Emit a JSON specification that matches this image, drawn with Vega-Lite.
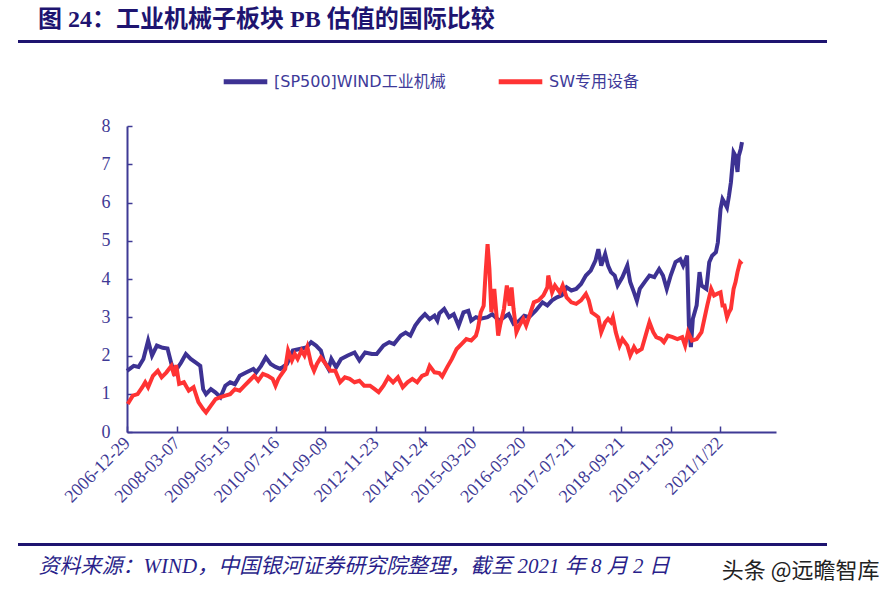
{
  "$schema": "https://vega.github.io/schema/vega-lite/v6.json",
  "background": "white",
  "padding": {"left": 18, "top": 6, "right": 0, "bottom": 0},
  "config": {"view": {"stroke": null}},
  "datasets": {
    "wind": [
      {"date": "2006-12-29", "pb": 1.60}, {"date": "2007-02-25", "pb": 1.73}, {"date": "2007-04-08", "pb": 1.70},
      {"date": "2007-05-20", "pb": 1.91}, {"date": "2007-06-30", "pb": 2.39}, {"date": "2007-08-03", "pb": 2.00},
      {"date": "2007-09-14", "pb": 2.26}, {"date": "2007-11-03", "pb": 2.20}, {"date": "2007-12-15", "pb": 2.18},
      {"date": "2008-01-18", "pb": 1.78}, {"date": "2008-02-12", "pb": 1.55}, {"date": "2008-04-10", "pb": 1.81},
      {"date": "2008-05-22", "pb": 2.04}, {"date": "2008-07-03", "pb": 1.91}, {"date": "2008-08-14", "pb": 1.82},
      {"date": "2008-09-24", "pb": 1.73}, {"date": "2008-10-19", "pb": 1.12}, {"date": "2008-11-13", "pb": 0.99},
      {"date": "2008-12-25", "pb": 1.12}, {"date": "2009-02-04", "pb": 1.03}, {"date": "2009-03-18", "pb": 0.91},
      {"date": "2009-04-29", "pb": 1.21}, {"date": "2009-06-10", "pb": 1.30}, {"date": "2009-07-21", "pb": 1.25},
      {"date": "2009-09-01", "pb": 1.47}, {"date": "2009-10-30", "pb": 1.56}, {"date": "2009-12-28", "pb": 1.65},
      {"date": "2010-01-22", "pb": 1.56}, {"date": "2010-03-05", "pb": 1.73}, {"date": "2010-04-15", "pb": 1.95},
      {"date": "2010-05-27", "pb": 1.78}, {"date": "2010-07-08", "pb": 1.70}, {"date": "2010-08-19", "pb": 1.65},
      {"date": "2010-10-16", "pb": 1.78}, {"date": "2010-12-05", "pb": 2.13}, {"date": "2011-02-02", "pb": 2.17},
      {"date": "2011-04-01", "pb": 2.21}, {"date": "2011-05-13", "pb": 2.35}, {"date": "2011-06-24", "pb": 2.26},
      {"date": "2011-08-05", "pb": 2.13}, {"date": "2011-08-30", "pb": 1.87}, {"date": "2011-10-10", "pb": 1.65},
      {"date": "2011-11-04", "pb": 1.91}, {"date": "2011-12-16", "pb": 1.69}, {"date": "2012-01-27", "pb": 1.91},
      {"date": "2012-03-25", "pb": 2.00}, {"date": "2012-05-23", "pb": 2.08}, {"date": "2012-07-04", "pb": 1.87},
      {"date": "2012-08-23", "pb": 2.08}, {"date": "2012-10-20", "pb": 2.04}, {"date": "2012-12-01", "pb": 2.04},
      {"date": "2013-01-29", "pb": 2.26}, {"date": "2013-03-20", "pb": 2.35}, {"date": "2013-04-30", "pb": 2.30},
      {"date": "2013-06-28", "pb": 2.52}, {"date": "2013-08-09", "pb": 2.60}, {"date": "2013-09-19", "pb": 2.52},
      {"date": "2013-10-31", "pb": 2.78}, {"date": "2013-12-12", "pb": 2.95}, {"date": "2014-01-23", "pb": 3.08},
      {"date": "2014-03-05", "pb": 2.95}, {"date": "2014-04-16", "pb": 3.04}, {"date": "2014-05-11", "pb": 2.91},
      {"date": "2014-05-28", "pb": 3.10}, {"date": "2014-07-09", "pb": 3.22}, {"date": "2014-08-20", "pb": 3.00},
      {"date": "2014-09-30", "pb": 3.08}, {"date": "2014-11-11", "pb": 2.78}, {"date": "2014-12-23", "pb": 3.13},
      {"date": "2015-02-03", "pb": 3.17}, {"date": "2015-02-28", "pb": 2.91}, {"date": "2015-04-10", "pb": 3.00},
      {"date": "2015-05-22", "pb": 2.96}, {"date": "2015-07-20", "pb": 3.00}, {"date": "2015-08-30", "pb": 3.08},
      {"date": "2015-10-28", "pb": 2.91}, {"date": "2015-12-09", "pb": 3.00}, {"date": "2016-01-19", "pb": 3.08},
      {"date": "2016-03-01", "pb": 2.83}, {"date": "2016-04-20", "pb": 2.91}, {"date": "2016-06-01", "pb": 3.04},
      {"date": "2016-07-13", "pb": 3.00}, {"date": "2016-09-09", "pb": 3.17}, {"date": "2016-11-07", "pb": 3.39},
      {"date": "2016-12-19", "pb": 3.31}, {"date": "2017-01-29", "pb": 3.44}, {"date": "2017-03-12", "pb": 3.52},
      {"date": "2017-04-23", "pb": 3.57}, {"date": "2017-06-04", "pb": 3.78}, {"date": "2017-07-15", "pb": 3.70},
      {"date": "2017-08-26", "pb": 3.74}, {"date": "2017-10-07", "pb": 3.87}, {"date": "2017-11-18", "pb": 4.09},
      {"date": "2017-12-30", "pb": 4.22}, {"date": "2018-02-09", "pb": 4.48}, {"date": "2018-03-06", "pb": 4.78},
      {"date": "2018-03-31", "pb": 4.35}, {"date": "2018-05-04", "pb": 4.65}, {"date": "2018-05-29", "pb": 4.35},
      {"date": "2018-06-23", "pb": 4.18}, {"date": "2018-07-26", "pb": 4.09}, {"date": "2018-08-20", "pb": 3.83},
      {"date": "2018-10-01", "pb": 4.05}, {"date": "2018-11-12", "pb": 4.35}, {"date": "2018-12-07", "pb": 3.92},
      {"date": "2019-01-09", "pb": 3.65}, {"date": "2019-02-03", "pb": 3.43}, {"date": "2019-02-28", "pb": 3.74},
      {"date": "2019-04-11", "pb": 3.92}, {"date": "2019-05-23", "pb": 4.09}, {"date": "2019-07-04", "pb": 4.05},
      {"date": "2019-08-15", "pb": 4.26}, {"date": "2019-09-17", "pb": 4.09}, {"date": "2019-10-20", "pb": 3.74},
      {"date": "2019-11-23", "pb": 4.09}, {"date": "2020-01-04", "pb": 4.44}, {"date": "2020-02-14", "pb": 4.52},
      {"date": "2020-03-10", "pb": 4.35}, {"date": "2020-04-13", "pb": 4.61}, {"date": "2020-04-29", "pb": 2.78},
      {"date": "2020-05-16", "pb": 2.22}, {"date": "2020-06-02", "pb": 2.96}, {"date": "2020-07-05", "pb": 3.31},
      {"date": "2020-07-30", "pb": 4.18}, {"date": "2020-08-16", "pb": 3.83}, {"date": "2020-09-27", "pb": 3.74},
      {"date": "2020-10-22", "pb": 4.44}, {"date": "2020-11-16", "pb": 4.61}, {"date": "2020-12-19", "pb": 4.70},
      {"date": "2021-01-05", "pb": 4.96}, {"date": "2021-01-28", "pb": 5.83}, {"date": "2021-02-14", "pb": 6.09},
      {"date": "2021-03-03", "pb": 6.00}, {"date": "2021-03-25", "pb": 5.87}, {"date": "2021-04-11", "pb": 6.17},
      {"date": "2021-04-28", "pb": 6.53}, {"date": "2021-05-21", "pb": 7.31}, {"date": "2021-06-07", "pb": 7.22},
      {"date": "2021-06-24", "pb": 6.80}, {"date": "2021-07-05", "pb": 7.22}, {"date": "2021-07-22", "pb": 7.40},
      {"date": "2021-08-02", "pb": 7.58}
    ],
    "sw": [
      {"date": "2007-01-04", "pb": 0.73}, {"date": "2007-02-17", "pb": 0.95}, {"date": "2007-03-31", "pb": 0.99},
      {"date": "2007-05-11", "pb": 1.17}, {"date": "2007-06-05", "pb": 1.30}, {"date": "2007-06-30", "pb": 1.17},
      {"date": "2007-08-11", "pb": 1.47}, {"date": "2007-09-22", "pb": 1.60}, {"date": "2007-10-25", "pb": 1.43},
      {"date": "2007-12-06", "pb": 1.56}, {"date": "2008-01-18", "pb": 1.73}, {"date": "2008-02-12", "pb": 1.47},
      {"date": "2008-02-28", "pb": 1.75}, {"date": "2008-03-25", "pb": 1.26}, {"date": "2008-05-05", "pb": 1.30},
      {"date": "2008-06-16", "pb": 1.08}, {"date": "2008-07-28", "pb": 1.17}, {"date": "2008-09-08", "pb": 0.78},
      {"date": "2008-10-19", "pb": 0.60}, {"date": "2008-11-13", "pb": 0.51}, {"date": "2008-12-25", "pb": 0.69},
      {"date": "2009-02-04", "pb": 0.86}, {"date": "2009-03-18", "pb": 0.91}, {"date": "2009-04-29", "pb": 0.95},
      {"date": "2009-06-10", "pb": 0.99}, {"date": "2009-07-21", "pb": 1.12}, {"date": "2009-09-01", "pb": 1.08},
      {"date": "2009-10-13", "pb": 1.21}, {"date": "2009-11-24", "pb": 1.34}, {"date": "2010-01-05", "pb": 1.47},
      {"date": "2010-02-08", "pb": 1.34}, {"date": "2010-03-21", "pb": 1.52}, {"date": "2010-05-02", "pb": 1.47},
      {"date": "2010-06-13", "pb": 1.39}, {"date": "2010-07-08", "pb": 1.21}, {"date": "2010-08-02", "pb": 1.39},
      {"date": "2010-08-19", "pb": 1.47}, {"date": "2010-09-30", "pb": 1.65}, {"date": "2010-10-25", "pb": 2.13},
      {"date": "2010-11-27", "pb": 1.87}, {"date": "2010-12-22", "pb": 2.04}, {"date": "2011-01-16", "pb": 1.91},
      {"date": "2011-02-18", "pb": 2.13}, {"date": "2011-03-16", "pb": 2.00}, {"date": "2011-04-10", "pb": 2.22},
      {"date": "2011-05-13", "pb": 1.78}, {"date": "2011-06-07", "pb": 1.60}, {"date": "2011-07-02", "pb": 1.78},
      {"date": "2011-08-05", "pb": 1.95}, {"date": "2011-09-15", "pb": 1.78}, {"date": "2011-10-27", "pb": 1.60},
      {"date": "2011-12-08", "pb": 1.60}, {"date": "2012-01-19", "pb": 1.30}, {"date": "2012-02-29", "pb": 1.43},
      {"date": "2012-04-11", "pb": 1.39}, {"date": "2012-05-23", "pb": 1.30}, {"date": "2012-07-04", "pb": 1.34},
      {"date": "2012-08-14", "pb": 1.21}, {"date": "2012-10-04", "pb": 1.21}, {"date": "2012-11-14", "pb": 1.12},
      {"date": "2012-12-18", "pb": 1.04}, {"date": "2013-01-29", "pb": 1.21}, {"date": "2013-03-11", "pb": 1.43},
      {"date": "2013-04-22", "pb": 1.30}, {"date": "2013-06-03", "pb": 1.43}, {"date": "2013-07-15", "pb": 1.17},
      {"date": "2013-08-25", "pb": 1.30}, {"date": "2013-10-06", "pb": 1.39}, {"date": "2013-11-17", "pb": 1.30},
      {"date": "2013-12-29", "pb": 1.47}, {"date": "2014-02-08", "pb": 1.52}, {"date": "2014-03-05", "pb": 1.73},
      {"date": "2014-04-16", "pb": 1.56}, {"date": "2014-05-28", "pb": 1.54}, {"date": "2014-06-22", "pb": 1.45},
      {"date": "2014-08-03", "pb": 1.69}, {"date": "2014-09-14", "pb": 1.91}, {"date": "2014-10-25", "pb": 2.17},
      {"date": "2014-12-06", "pb": 2.30}, {"date": "2015-01-17", "pb": 2.43}, {"date": "2015-02-28", "pb": 2.39},
      {"date": "2015-04-10", "pb": 2.52}, {"date": "2015-04-27", "pb": 2.70}, {"date": "2015-05-22", "pb": 3.13},
      {"date": "2015-06-16", "pb": 3.30}, {"date": "2015-07-03", "pb": 4.17}, {"date": "2015-07-20", "pb": 4.91},
      {"date": "2015-08-05", "pb": 4.26}, {"date": "2015-08-22", "pb": 3.13}, {"date": "2015-09-16", "pb": 3.74},
      {"date": "2015-10-03", "pb": 3.13}, {"date": "2015-10-20", "pb": 2.52}, {"date": "2015-11-05", "pb": 2.78},
      {"date": "2015-12-09", "pb": 3.22}, {"date": "2016-01-03", "pb": 3.83}, {"date": "2016-01-28", "pb": 3.30},
      {"date": "2016-02-13", "pb": 3.78}, {"date": "2016-03-01", "pb": 3.22}, {"date": "2016-03-26", "pb": 2.61},
      {"date": "2016-04-20", "pb": 2.78}, {"date": "2016-05-24", "pb": 2.96}, {"date": "2016-06-18", "pb": 2.78},
      {"date": "2016-07-13", "pb": 3.00}, {"date": "2016-08-24", "pb": 3.39}, {"date": "2016-10-04", "pb": 3.44},
      {"date": "2016-11-15", "pb": 3.57}, {"date": "2016-12-19", "pb": 3.78}, {"date": "2016-12-27", "pb": 4.09},
      {"date": "2017-01-29", "pb": 3.65}, {"date": "2017-02-23", "pb": 3.83}, {"date": "2017-04-06", "pb": 3.65},
      {"date": "2017-05-01", "pb": 3.83}, {"date": "2017-06-04", "pb": 3.52}, {"date": "2017-07-15", "pb": 3.39},
      {"date": "2017-08-26", "pb": 3.35}, {"date": "2017-10-07", "pb": 3.44}, {"date": "2017-11-18", "pb": 3.61},
      {"date": "2017-12-13", "pb": 3.44}, {"date": "2018-01-07", "pb": 3.13}, {"date": "2018-02-18", "pb": 3.04},
      {"date": "2018-03-06", "pb": 3.00}, {"date": "2018-03-31", "pb": 2.61}, {"date": "2018-05-04", "pb": 2.87},
      {"date": "2018-05-29", "pb": 2.96}, {"date": "2018-06-23", "pb": 2.87}, {"date": "2018-07-10", "pb": 3.00},
      {"date": "2018-08-04", "pb": 2.61}, {"date": "2018-09-06", "pb": 2.26}, {"date": "2018-10-01", "pb": 2.43},
      {"date": "2018-11-12", "pb": 2.26}, {"date": "2018-12-07", "pb": 2.00}, {"date": "2019-01-09", "pb": 2.22},
      {"date": "2019-02-03", "pb": 2.09}, {"date": "2019-03-17", "pb": 2.17}, {"date": "2019-04-28", "pb": 2.61},
      {"date": "2019-05-23", "pb": 2.87}, {"date": "2019-06-25", "pb": 2.61}, {"date": "2019-07-21", "pb": 2.48},
      {"date": "2019-08-31", "pb": 2.43}, {"date": "2019-09-25", "pb": 2.35}, {"date": "2019-10-29", "pb": 2.52},
      {"date": "2019-12-10", "pb": 2.48}, {"date": "2020-01-20", "pb": 2.43}, {"date": "2020-03-02", "pb": 2.48},
      {"date": "2020-03-27", "pb": 2.26}, {"date": "2020-04-21", "pb": 2.61}, {"date": "2020-05-25", "pb": 2.39},
      {"date": "2020-07-05", "pb": 2.43}, {"date": "2020-08-16", "pb": 2.61}, {"date": "2020-09-10", "pb": 2.96},
      {"date": "2020-10-05", "pb": 3.31}, {"date": "2020-11-08", "pb": 3.74}, {"date": "2020-12-03", "pb": 3.57},
      {"date": "2020-12-28", "pb": 3.61}, {"date": "2021-01-28", "pb": 3.65}, {"date": "2021-02-14", "pb": 3.31},
      {"date": "2021-03-03", "pb": 3.31}, {"date": "2021-03-25", "pb": 3.00}, {"date": "2021-04-11", "pb": 3.13},
      {"date": "2021-04-28", "pb": 3.22}, {"date": "2021-05-21", "pb": 3.74}, {"date": "2021-06-07", "pb": 3.92},
      {"date": "2021-06-24", "pb": 4.18}, {"date": "2021-07-16", "pb": 4.44}, {"date": "2021-08-02", "pb": 4.39}
    ]
  },
  "spacing": 11,
  "resolve": {"scale": {"color": "independent"}, "legend": {"color": "independent"}},
  "vconcat": [
    {
      "width": 807,
      "height": 1,
      "view": {"stroke": "#1E1470", "strokeWidth": 2, "fill": "#1E1470"},
      "title": {
        "text": "图 24：工业机械子板块 PB 估值的国际比较",
        "anchor": "start",
        "frame": "group",
        "dx": 19,
        "offset": 7,
        "font": "Liberation Serif, Noto Sans CJK SC",
        "fontSize": 24,
        "fontWeight": "bold",
        "color": "#1E1470"
      },
      "data": {"values": [{"k": 0}]},
      "mark": {"type": "point", "opacity": 0}
    },
    {
      "spacing": 34,
      "resolve": {"scale": {"color": "independent"}, "legend": {"color": "independent"}},
      "vconcat": [
        {
          "bounds": "flush",
          "spacing": 0,
          "resolve": {"scale": {"color": "independent"}, "legend": {"color": "independent"}},
          "hconcat": [
            {
              "width": 108,
              "height": 306,
              "data": {"values": [{"k": 0}]},
              "mark": {"type": "point", "opacity": 0}
            },
            {
              "width": 649,
              "height": 306,
              "encoding": {
                "x": {
                  "field": "date",
                  "type": "temporal",
                  "scale": {
                    "type": "utc",
                    "nice": false,
                    "domain": [
                      {"year": 2006, "month": 12, "date": 29, "utc": true},
                      {"year": 2021, "month": 1, "date": 22, "utc": true},
                      {"year": 2021, "month": 8, "date": 2, "utc": true}
                    ],
                    "range": [0, 615, 649]
                  },
                  "axis": {
                    "title": null,
                    "grid": false,
                    "values": [
                      {"year": 2006, "month": 12, "date": 29, "utc": true},
                      {"year": 2008, "month": 3, "date": 7, "utc": true},
                      {"year": 2009, "month": 5, "date": 15, "utc": true},
                      {"year": 2010, "month": 7, "date": 16, "utc": true},
                      {"year": 2011, "month": 9, "date": 9, "utc": true},
                      {"year": 2012, "month": 11, "date": 23, "utc": true},
                      {"year": 2014, "month": 1, "date": 24, "utc": true},
                      {"year": 2015, "month": 3, "date": 20, "utc": true},
                      {"year": 2016, "month": 5, "date": 20, "utc": true},
                      {"year": 2017, "month": 7, "date": 21, "utc": true},
                      {"year": 2018, "month": 9, "date": 21, "utc": true},
                      {"year": 2019, "month": 11, "date": 29, "utc": true},
                      {"year": 2021, "month": 1, "date": 22, "utc": true}
                    ],
                    "labelExpr": "utcyear(datum.value) == 2021 ? '2021/1/22' : utcFormat(datum.value, '%Y-%m-%d')",
                    "labelAngle": -45,
                    "labelAlign": "right",
                    "labelBaseline": "middle",
                    "labelFont": "Liberation Serif",
                    "labelFontSize": 18,
                    "labelColor": "#3F3A95",
                    "labelPadding": 14,
                    "labelOverlap": false,
                    "labelFlush": false,
                    "domainColor": "#3F3A95",
                    "domainWidth": 2,
                    "tickColor": "#3F3A95",
                    "tickWidth": 1.5,
                    "tickSize": -6
                  }
                },
                "y": {
                  "field": "pb",
                  "type": "quantitative",
                  "scale": {"domain": [0, 8], "nice": false, "zero": true},
                  "axis": {
                    "title": null,
                    "grid": false,
                    "values": [0, 1, 2, 3, 4, 5, 6, 7, 8],
                    "format": "d",
                    "labelFont": "Liberation Serif",
                    "labelFontSize": 18,
                    "labelColor": "#3F3A95",
                    "labelPadding": 22,
                    "labelFlush": false,
                    "domainColor": "#3F3A95",
                    "domainWidth": 2,
                    "tickColor": "#3F3A95",
                    "tickWidth": 1.5,
                    "tickSize": -5
                  }
                },
                "color": {
                  "type": "nominal",
                  "scale": {
                    "domain": ["[SP500]WIND工业机械", "SW专用设备"],
                    "range": ["#3D3293", "#FF3333"]
                  },
                  "legend": {
                    "orient": "none",
                    "legendX": 94,
                    "legendY": -69,
                    "direction": "horizontal",
                    "title": null,
                    "symbolType": "stroke",
                    "symbolSize": 1900,
                    "symbolStrokeWidth": 5,
                    "labelFont": "DejaVu Sans, Noto Sans CJK SC",
                    "labelFontSize": 16,
                    "labelColor": "#3E3A99",
                    "labelOffset": 4,
                    "columnPadding": 42,
                    "labelLimit": 400
                  }
                }
              },
              "layer": [
                {
                  "data": {"name": "wind"},
                  "mark": {"type": "line", "strokeWidth": 4},
                  "encoding": {"color": {"datum": "[SP500]WIND工业机械"}}
                },
                {
                  "data": {"name": "sw"},
                  "mark": {"type": "line", "strokeWidth": 4},
                  "encoding": {"color": {"datum": "SW专用设备"}}
                }
              ]
            }
          ]
        },
        {
          "width": 807,
          "height": 1,
          "view": {"stroke": "#1E1470", "strokeWidth": 2, "fill": "#1E1470"},
          "data": {"values": [{"k": 0}]},
          "mark": {"type": "point", "opacity": 0},
          "encoding": {
            "x": {
              "field": "k",
              "type": "quantitative",
              "axis": {
                "domain": false,
                "ticks": false,
                "labels": false,
                "grid": false,
                "title": "资料来源：WIND，中国银河证券研究院整理，截至 2021 年 8 月 2 日",
                "titleX": 19,
                "titleY": 21,
                "titleAlign": "left",
                "titleBaseline": "middle",
                "titleFont": "Liberation Serif, Noto Sans CJK SC",
                "titleFontSize": 21,
                "titleFontStyle": "italic",
                "titleFontWeight": "normal",
                "titleColor": "#2A1F8A"
              }
            },
            "y": {
              "field": "k",
              "type": "quantitative",
              "axis": {
                "domain": false,
                "ticks": false,
                "labels": false,
                "grid": false,
                "title": "头条 @远瞻智库",
                "titleAngle": 0,
                "titleX": 860,
                "titleY": 26,
                "titleAlign": "right",
                "titleBaseline": "middle",
                "titleFont": "Noto Sans CJK SC",
                "titleFontSize": 22,
                "titleFontWeight": "normal",
                "titleColor": "#222222"
              }
            }
          }
        }
      ]
    }
  ]
}
